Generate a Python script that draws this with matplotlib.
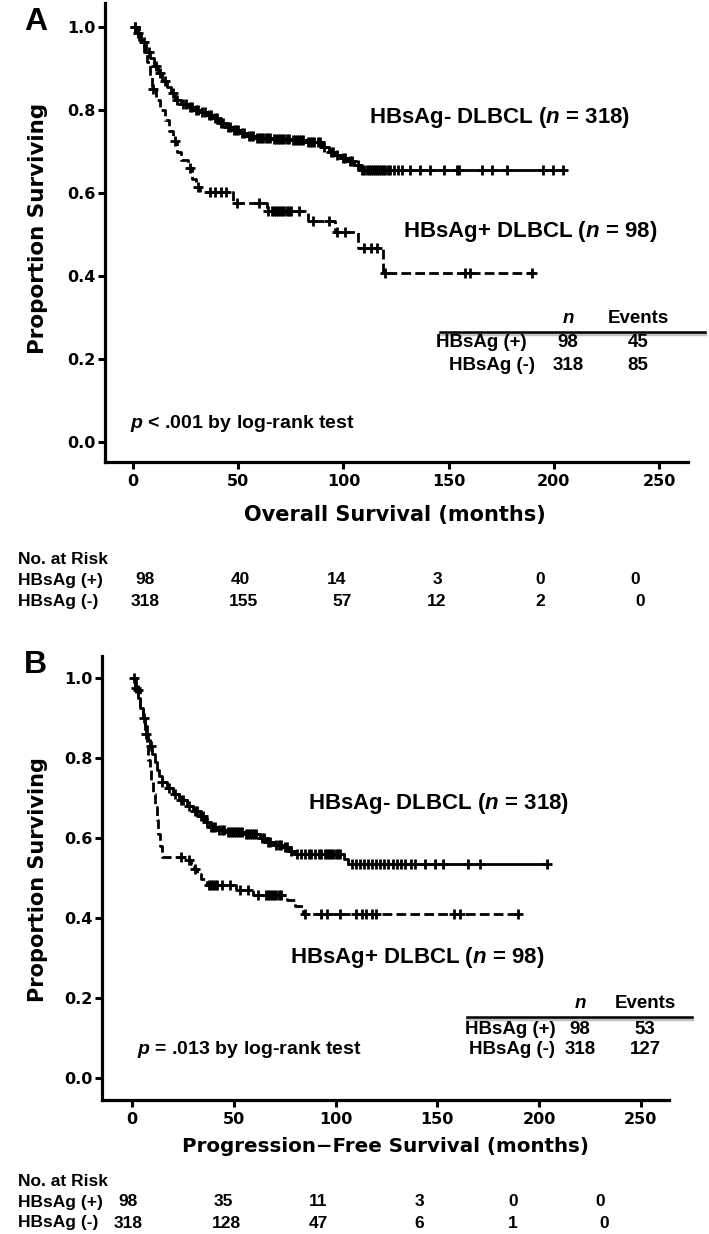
import numpy as np
import matplotlib
matplotlib.use("Agg")
import matplotlib.pyplot as plt

# ---------------- data ----------------
# Panel A - overall survival, step times (months) and survival after each drop
os_neg_t = [0, 2, 4, 6, 8, 10, 12, 14, 16, 18, 20, 23, 26, 29, 32, 35, 38, 41, 44, 47,
            51, 54, 58, 66, 75, 82, 90, 93, 96, 99, 102, 105, 108]
os_neg_s = [1.0, 0.985, 0.965, 0.94, 0.925, 0.905, 0.89, 0.87, 0.855, 0.84, 0.825, 0.815,
            0.808, 0.80, 0.795, 0.787, 0.78, 0.77, 0.76, 0.752, 0.745, 0.737, 0.733, 0.73,
            0.727, 0.723, 0.712, 0.70, 0.692, 0.685, 0.678, 0.668, 0.655]
os_neg_cens = [1, 2.5, 5, 7.5, 11, 13, 15, 19, 21, 24, 25, 27, 28, 30, 31, 33, 34, 36, 37,
               39, 40, 42, 43, 45, 46, 48, 49, 50, 52, 53, 55, 56, 57, 59, 60, 61, 62, 63,
               64, 65, 67, 68, 69, 70, 71, 72, 73, 74, 76, 77, 78, 79, 80, 81, 83, 84, 85,
               86, 88, 89, 91, 94, 95, 97, 100, 101, 103, 104, 107, 109, 110, 111, 112,
               113, 114, 115, 116, 117, 118, 119, 120, 121, 122, 124, 126, 128, 131.7,
               136.4, 141, 148, 154, 155, 166, 170.6, 178, 195, 199.6, 204.4]

os_pos_t = [0, 3, 5, 6.6, 8, 9, 11, 13, 15, 17, 19, 21, 23, 26, 28, 30, 32, 47.5, 63.5,
            83, 96, 107, 119]
os_pos_s = [1.0, 0.97, 0.94, 0.915, 0.88, 0.85, 0.825, 0.80, 0.775, 0.75, 0.725, 0.70,
            0.68, 0.66, 0.635, 0.615, 0.603, 0.577, 0.557, 0.532, 0.505, 0.468, 0.407]
os_pos_cens = [1, 9.5, 20, 27, 31, 36.6, 39, 42, 44, 49.4, 60, 64, 66, 67, 68, 69, 70, 71,
               72, 73, 74, 75, 79, 85.5, 93, 97, 101, 110, 113, 116, 120, 158, 160, 189.6]

# Panel B - progression-free survival
pfs_neg_t = [0, 1.5, 3, 4, 5.4, 6.5, 7.2, 8, 8.8, 10, 11.3, 12.5, 13.5, 14.6, 17, 20, 23,
             27, 30, 33.4, 36, 38.3, 42, 46.6, 55, 63, 66, 70, 74, 77, 80, 104, 106]
pfs_neg_s = [1.0, 0.975, 0.95, 0.925, 0.90, 0.88, 0.86, 0.845, 0.83, 0.81, 0.79, 0.77,
             0.755, 0.74, 0.725, 0.71, 0.695, 0.68, 0.667, 0.655, 0.64, 0.627, 0.62, 0.615,
             0.61, 0.60, 0.59, 0.583, 0.577, 0.568, 0.56, 0.548, 0.536]
pfs_neg_cens = [2, 6, 9.5, 15, 18, 21, 24, 25, 28, 31, 32, 34, 35, 37, 39, 40, 41, 43, 44,
                45, 47, 48, 49, 50, 51, 52, 53, 54, 56, 57, 58, 59, 60, 61, 64, 65, 67, 68,
                71, 72, 73, 75, 76, 78, 81, 83, 85, 87, 88, 90, 92, 93, 95, 96, 97, 98, 99,
                100, 101, 102, 108, 110, 112, 114, 116, 118, 120, 122, 124, 126, 128, 130,
                132, 134, 137, 139, 144, 149, 153, 165, 171, 204]

pfs_pos_t = [0, 2, 4, 5.4, 6.5, 7.2, 8, 8.8, 9.6, 10.5, 11.3, 12.2, 13, 13.8, 14.6, 27,
             29, 30.5, 32, 34, 36.8, 51, 59.5, 76, 80, 84]
pfs_pos_s = [1.0, 0.97, 0.93, 0.895, 0.86, 0.83, 0.795, 0.77, 0.745, 0.71, 0.678, 0.645,
             0.61, 0.58, 0.553, 0.545, 0.535, 0.522, 0.51, 0.497, 0.483, 0.47, 0.458, 0.445,
             0.43, 0.41]
pfs_pos_cens = [1, 3, 7, 24, 28, 31, 38, 39, 40, 41, 42, 44, 48, 53, 57, 62, 66, 67, 68,
                69, 70, 71, 72, 73, 85, 93, 96, 102, 110, 113, 115, 118, 120, 158, 161, 189.6]

groups = ["HBsAg (+)", "HBsAg (-)"]
os_n = [98, 318]
os_events = [45, 85]
pfs_n = [98, 318]
pfs_events = [53, 127]
os_risk_pos = [98, 40, 14, 3, 0, 0]
os_risk_neg = [318, 155, 57, 12, 2, 0]
pfs_risk_pos = [98, 35, 11, 3, 0, 0]
pfs_risk_neg = [318, 128, 47, 6, 1, 0]

# ---------------- style ----------------
W, H = 709, 1234
plt.rcParams['font.family'] = ['DejaVu Sans']
plt.rcParams['mathtext.fontset'] = 'custom'
plt.rcParams['mathtext.it'] = 'Liberation Sans:bold:italic'
plt.rcParams['mathtext.rm'] = 'Liberation Sans:bold'
plt.rcParams['lines.scale_dashes'] = False
ARIAL = 'Liberation Sans'


def fx(px):
    return px / W


def fy(py):
    return 1 - py / H


def km(ax, times, surv, cens, dashed):
    end = max(cens)
    xs = list(times) + [end]
    ys = list(surv) + [surv[-1]]
    ls = (0, (7, 3)) if dashed else '-'
    ax.step(xs, ys, where='post', color='black', lw=2.0, ls=ls, zorder=3)
    idx = np.searchsorted(times, cens, side='right') - 1
    cy = np.array(surv)[idx]
    ax.plot(cens, cy, ls='none', marker='+', ms=7.5, mew=2.0, color='black', zorder=4)


def setup_axes(box, xlim, ylim, tick_fs):
    l, t, r, b = box
    ax = fig.add_axes([fx(l), fy(b), (r - l) / W, (b - t) / H])
    ax.set_xlim(*xlim)
    ax.set_ylim(*ylim)
    for s in ['top', 'right']:
        ax.spines[s].set_visible(False)
    for s in ['left', 'bottom']:
        ax.spines[s].set_linewidth(2.3)
    ax.set_xticks([0, 50, 100, 150, 200, 250])
    ax.set_yticks([0.0, 0.2, 0.4, 0.6, 0.8, 1.0])
    ax.set_yticklabels(['0.0', '0.2', '0.4', '0.6', '0.8', '1.0'])
    ax.tick_params(direction='out', length=5, width=2.2, labelsize=tick_fs, pad=2)
    ax.tick_params(axis='x', pad=4)
    for tl in ax.get_xticklabels() + ax.get_yticklabels():
        tl.set_fontweight('bold')
    return ax


def txt(px, py, s, size, ha='left', **kw):
    fig.text(fx(px), fy(py), s, fontsize=size, ha=ha, va='center',
             family=ARIAL, fontweight='bold', **kw)


def table(line_x, line_y, rows_y, col_x, n_vals, ev_vals, label_right):
    fig.add_artist(plt.Line2D([fx(line_x[0]), fx(line_x[1])], [fy(line_y + 2), fy(line_y + 2)],
                              color='#9a9a9a', lw=2.5, alpha=0.6))
    fig.add_artist(plt.Line2D([fx(line_x[0]), fx(line_x[1])], [fy(line_y), fy(line_y)],
                              color='black', lw=1.8))
    txt(col_x[0], line_y - 13, '$n$', 13.5, ha='center')
    txt(col_x[1], line_y - 13, 'Events', 13.5, ha='center')
    for i in range(2):
        txt(label_right[i], rows_y[i], groups[i], 13.5, ha='right')
        txt(col_x[0], rows_y[i], str(n_vals[i]), 13.5, ha='center')
        txt(col_x[1], rows_y[i], str(ev_vals[i]), 13.5, ha='center')


def risk(y0, cols, pos_vals, neg_vals):
    txt(18, y0, 'No. at Risk', 12.5)
    txt(18, y0 + 20, groups[0], 12.5)
    txt(18, y0 + 41, groups[1], 12.5)
    for i in range(6):
        txt(cols[0][i], y0 + 20, str(pos_vals[i]), 12.5, ha='center')
        txt(cols[1][i], y0 + 41, str(neg_vals[i]), 12.5, ha='center')


fig = plt.figure(figsize=(W / 100, H / 100), dpi=100)

# ---------------- panel A ----------------
axA = setup_axes((105, 3, 688, 462), (-13.3, 263.8), (-0.048, 1.058), 11.5)
km(axA, os_neg_t, os_neg_s, os_neg_cens, False)
km(axA, os_pos_t, os_pos_s, os_pos_cens, True)
fig.text(fx(395), fy(515), 'Overall Survival (months)', fontsize=15, fontweight='bold',
         ha='center', va='center')
fig.text(fx(38), fy(228), 'Proportion Surviving', fontsize=15.5, fontweight='bold',
         ha='center', va='center', rotation=90)
txt(24, 22, 'A', 23)
txt(369, 118, 'HBsAg- DLBCL ($n$ = 318)', 16)
txt(403, 232, 'HBsAg+ DLBCL ($n$ = 98)', 16)
txt(130, 423, '$p$ < .001 by log-rank test', 14)
table((440, 705), 332, (343, 365), (568, 638), os_n, os_events, (527, 535))
risk(560, ([145, 240, 337, 437, 540, 635], [145, 243, 342, 437, 540, 640]),
     os_risk_pos, os_risk_neg)

# ---------------- panel B ----------------
axB = setup_axes((102, 656, 669, 1100), (-14.7, 263.8), (-0.055, 1.055), 11.5)
km(axB, pfs_neg_t, pfs_neg_s, pfs_neg_cens, False)
km(axB, pfs_pos_t, pfs_pos_s, pfs_pos_cens, True)
fig.text(fx(385), fy(1147), 'Progression\u2212Free Survival (months)', fontsize=14.3,
         fontweight='bold', ha='center', va='center')
fig.text(fx(38), fy(880), 'Proportion Surviving', fontsize=15, fontweight='bold',
         ha='center', va='center', rotation=90)
txt(24, 665, 'B', 23)
txt(308, 803, 'HBsAg- DLBCL ($n$ = 318)', 16)
txt(290, 957, 'HBsAg+ DLBCL ($n$ = 98)', 16)
txt(137, 1050, '$p$ = .013 by log-rank test', 14)
table((467, 692), 1017, (1029, 1050), (580, 645), pfs_n, pfs_events, (556, 555))
risk(1182, ([128, 223, 318, 419, 513, 600], [128, 226, 318, 419, 513, 604]),
     pfs_risk_pos, pfs_risk_neg)

fig.savefig('out.png', dpi=100)
